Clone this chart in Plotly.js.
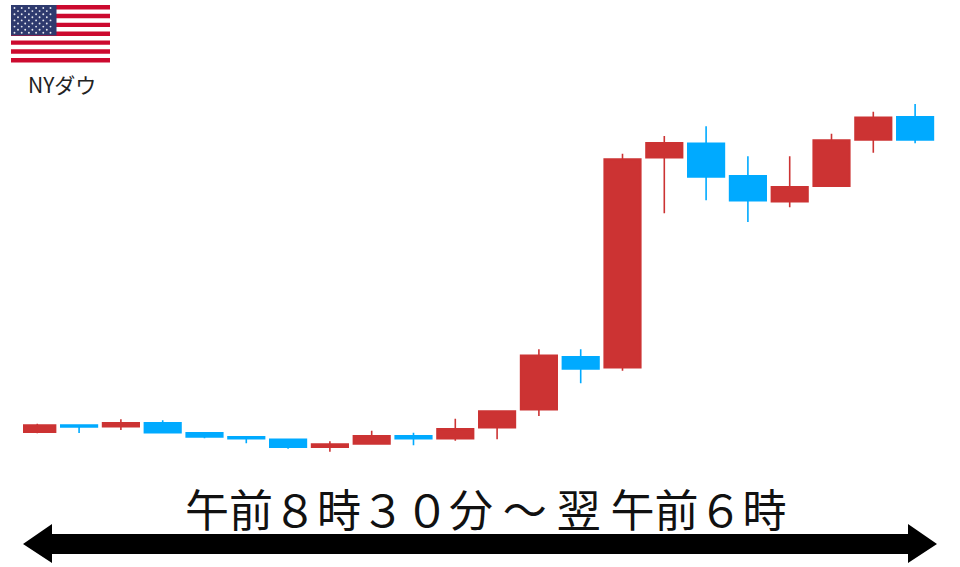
<!DOCTYPE html>
<html lang="ja">
<head>
<meta charset="utf-8">
<script src="https://cdn.plot.ly/plotly-3.0.1.min.js"></script>
<style>html,body{margin:0;padding:0;background:#fff}#chart{width:960px;height:567px}</style>
</head>
<body>
<div id="chart"></div>
<script>
// Session index (hourly candles, 8:30 to 6:00 next morning)
var sessions = [0,1,2,3,4,5,6,7,8,9,10,11,12,13,14,15,16,17,18,19,20,21];
// Values, on a relative scale (no price axis is shown)
var opens  = [134.7,142.0,140.3,144.3,134.3,130.3,127.7,119.7,123.0,131.3,128.3,139.3,157.3,210.3,199.3,409.3,423.7,391.3,365.3,380.7,427.0,450.3];
var highs  = [143.3,142.0,147.7,146.7,134.3,130.3,127.7,125.7,136.3,134.3,148.3,156.7,217.7,217.7,413.3,431.0,440.7,410.7,410.7,433.3,455.3,463.0];
var lows   = [133.7,134.0,137.0,133.7,128.7,123.7,118.3,115.3,123.0,121.7,126.3,127.7,151.0,183.7,196.3,353.7,366.7,345.0,359.7,380.7,414.3,423.7];
var closes = [142.0,140.0,144.3,134.3,130.0,128.3,119.7,123.0,131.3,128.3,138.3,156.0,211.7,198.0,408.0,424.3,390.0,366.3,380.3,427.0,449.7,427.0];
var upColor = '#CC3333';
var downColor = '#00AAFF';
var mainLabel = '午前８時３０分 ～ 翌 午前６時';
var flagLabel = 'NYダウ';

var W = 960, H = 567;
function px(x){ return x / W; }
function py(y){ return 1 - y / H; }
function rect(x0,y0,x1,y1,color){
  return {type:'rect',xref:'paper',yref:'paper',x0:px(x0),x1:px(x1),y0:py(y0),y1:py(y1),
          fillcolor:color,line:{width:0},layer:'above'};
}

var shapes = [];
// The reference crops the first candle at its left edge
shapes.push(rect(0,415,23,440,'#FFFFFF'));
// Flag
var fx0=11, fx1=110, fy0=5, fy1=62.5, stripeH=(fy1-fy0)/13;
shapes.push(rect(fx0,fy0,fx1,fy1,'#FFFFFF'));
for (var s=0;s<13;s+=2){ shapes.push(rect(fx0,fy0+s*stripeH,fx1,fy0+(s+1)*stripeH,'#CC0A2F')); }
shapes.push(rect(fx0,fy0,56.5,35.5,'#2E3A6E'));
for (var r=0;r<9;r++){
  var n = r%2===0 ? 6 : 5;
  for (var c=0;c<n;c++){
    var cx = 14.5 + (r%2===0?0:3.5) + c*7.2, cy = 8 + r*3.1, sr=0.95;
    shapes.push({type:'circle',xref:'paper',yref:'paper',x0:px(cx-sr),x1:px(cx+sr),y0:py(cy+sr),y1:py(cy-sr),
                 fillcolor:'#E6E8F0',line:{width:0},layer:'above'});
  }
}
// Double-headed arrow
var a = [[23,544],[52,524],[52,534],[908,534],[908,524],[937,544],[908,563],[908,554],[52,554],[52,563]];
shapes.push({type:'path',xref:'paper',yref:'paper',fillcolor:'#000000',line:{width:0},layer:'above',
  path:a.map(function(p,i){return (i?'L':'M')+px(p[0])+' '+py(p[1]);}).join(' ')+' Z'});

Plotly.newPlot('chart',[{
  type:'candlestick',
  x:sessions, open:opens, high:highs, low:lows, close:closes,
  increasing:{line:{color:upColor,width:1.6},fillcolor:upColor},
  decreasing:{line:{color:downColor,width:1.6},fillcolor:downColor},
  whiskerwidth:0, hoverinfo:'skip', showlegend:false
}],{
  width:W,height:H,margin:{l:0,r:0,t:0,b:0},
  paper_bgcolor:'#fff',plot_bgcolor:'#fff',showlegend:false,
  boxgap:0.125, boxgroupgap:0,
  xaxis:{visible:false,range:[-0.892,22.074],rangeslider:{visible:false},fixedrange:true},
  yaxis:{visible:false,range:[0,567],fixedrange:true},
  shapes:shapes,
  annotations:[
    {xref:'paper',yref:'paper',x:px(486.5),y:py(508),xanchor:'center',yanchor:'middle',showarrow:false,
     text:mainLabel,font:{family:'"Noto Sans CJK JP"',size:44,color:'#111'}},
    {xref:'paper',yref:'paper',x:px(62),y:py(84.5),xanchor:'center',yanchor:'middle',showarrow:false,
     text:flagLabel,font:{family:'"Noto Sans CJK JP"',size:21,color:'#222'}}
  ]
},{displayModeBar:false,staticPlot:true});
</script>
</body>
</html>
